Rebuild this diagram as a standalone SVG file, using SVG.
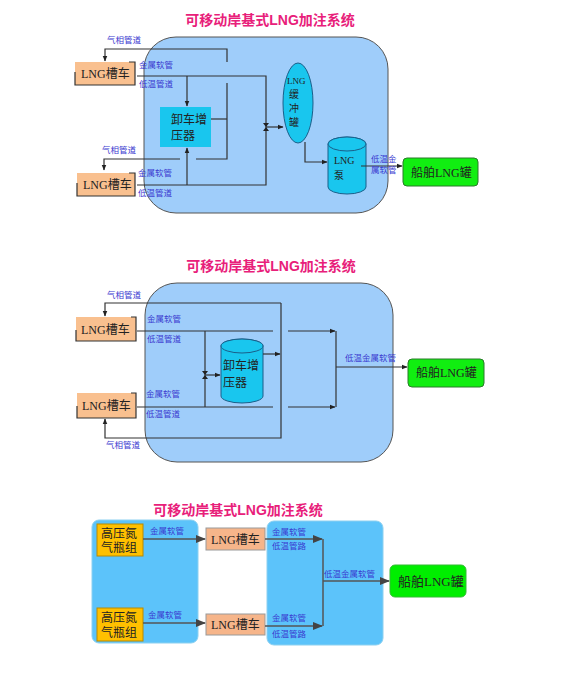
<svg xmlns="http://www.w3.org/2000/svg" width="580" height="673" viewBox="0 0 580 673">
<defs>
<marker id="a" viewBox="0 0 10 10" refX="9" refY="5" markerWidth="5" markerHeight="5" orient="auto"><path d="M0,1 L10,5 L0,9 z" fill="#222"/></marker>
<marker id="b" viewBox="0 0 10 10" refX="9" refY="5" markerWidth="7" markerHeight="7" orient="auto"><path d="M0,1 L10,5 L0,9 z" fill="#444"/></marker>
<style>
.t{font-family:"Liberation Sans","Noto Sans CJK SC",sans-serif;font-weight:bold;font-size:14px;fill:#e8207a}
.l{font-family:"Noto Sans CJK SC",sans-serif;font-size:8.5px;fill:#3a3ad0}
.n{font-family:"Liberation Serif","Noto Sans CJK SC",serif;font-size:12px;fill:#222}
.ln{stroke:#333;stroke-width:1.2;fill:none}
.ln3{stroke:#555;stroke-width:1.5;fill:none}
.panel{fill:#9fcdfa;stroke:#555;stroke-width:1}
.truck{fill:#f9c08f}
.green{fill:#11ee11;stroke:#2a7a2a;stroke-width:1}
.cyan{fill:#19c6ee;stroke:#1a5f8a;stroke-width:1}
.sky{fill:#5cc3fa;stroke:#8cd0f0;stroke-width:1}
.gold{fill:#ffc000;stroke:#b88a00;stroke-width:1}
.tk3{fill:#f6b58a;stroke:#999;stroke-width:1}
</style>
</defs>

<!-- ===== Diagram 1 ===== -->
<text class="t" x="270" y="25" text-anchor="middle">可移动岸基式LNG加注系统</text>
<rect class="panel" x="144" y="37" width="244" height="176" rx="32"/>

<g id="d1-truck1"><rect class="truck" x="75" y="62" width="60" height="23"/><path class="ln" d="M75,72 V85 H135 V62 H129"/><text class="n" x="81" y="78">LNG槽车</text></g>
<g id="d1-truck2"><rect class="truck" x="77" y="173" width="58" height="23"/><path class="ln" d="M77,183 V196 H135 V173 H129"/><text class="n" x="83" y="189">LNG槽车</text></g>
<g id="d1-press"><rect x="160" y="107" width="51" height="40" fill="#19c6ee"/><text class="n" x="171" y="124">卸车增</text><text class="n" x="171" y="140">压器</text></g>
<g id="d1-buffer"><ellipse class="cyan" cx="298" cy="103" rx="15" ry="40"/><text class="n" x="287" y="84" style="font-size:9px">LNG</text><text class="n" x="289" y="98" style="font-size:10px">缓</text><text class="n" x="289" y="112" style="font-size:10px">冲</text><text class="n" x="289" y="126" style="font-size:10px">罐</text></g>
<g id="d1-pump"><path class="cyan" d="M328,144 V187 A19,7 0 0 0 366,187 V144 A19,7 0 0 0 328,144 Z"/><ellipse class="cyan" cx="347" cy="144" rx="19" ry="7"/><text class="n" x="334" y="164" style="font-size:10px">LNG</text><text class="n" x="334" y="179" style="font-size:10px">泵</text></g>
<g id="d1-ship"><rect class="green" x="403" y="158" width="75" height="28" rx="4"/><text class="n" x="411" y="177">船舶LNG罐</text></g>

<g id="d1-connectors">
<path class="ln" d="M227,62 V49 H105 V61" marker-end="url(#a)"/>
<path class="ln" d="M180,159 H104 V170" marker-end="url(#a)"/>
<path class="ln" d="M196,159 H227 V83"/>
<path class="ln" d="M211,119 H227"/>
<path class="ln" d="M137,76 H266 V185 H137"/>
<path class="ln" d="M187,76 V106" marker-end="url(#a)"/>
<path class="ln" d="M187,185 V148" marker-end="url(#a)"/>
<path d="M263,123 L269,123 L263,131 L269,131 Z" fill="#222"/>
<path class="ln" d="M266,127 H283" marker-end="url(#a)"/>
<path class="ln" d="M305,142 V162 H327" marker-end="url(#a)"/>
<path class="ln" d="M361,166 H402" marker-end="url(#a)"/>
<text class="l" x="107" y="43">气相管道</text>
<text class="l" x="139" y="68">金属软管</text>
<text class="l" x="139" y="87">低温管道</text>
<text class="l" x="102" y="153">气相管道</text>
<text class="l" x="138" y="176">金属软管</text>
<text class="l" x="138" y="196">低温管道</text>
<text class="l" x="371" y="162">低温金</text>
<text class="l" x="371" y="173">属软管</text>
</g>

<!-- ===== Diagram 2 ===== -->
<text class="t" x="271" y="271" text-anchor="middle">可移动岸基式LNG加注系统</text>
<rect class="panel" x="145" y="283" width="248" height="179" rx="32"/>

<g id="d2-truck1"><rect class="truck" x="76" y="317" width="60" height="24"/><path class="ln" d="M76,330 V341 H136 V317 H131"/><text class="n" x="81" y="334">LNG槽车</text></g>
<g id="d2-truck2"><rect class="truck" x="77" y="393" width="59" height="25"/><path class="ln" d="M77,406 V418 H136 V393 H131"/><text class="n" x="82" y="410">LNG槽车</text></g>
<g id="d2-press"><path class="cyan" d="M221,346 V396 A21,7 0 0 0 263,396 V346 A21,7 0 0 0 221,346 Z"/><ellipse class="cyan" cx="242" cy="346" rx="21" ry="7"/><text class="n" x="223" y="370">卸车增</text><text class="n" x="223" y="387">压器</text></g>
<g id="d2-ship"><rect class="green" x="408" y="359" width="76" height="28" rx="4"/><text class="n" x="416" y="377">船舶LNG罐</text></g>

<g id="d2-connectors">
<path class="ln" d="M281,303 H105 V316" marker-end="url(#a)"/>
<path class="ln" d="M281,303 V438 H105 V419" marker-end="url(#a)"/>
<path class="ln" d="M137,331 H273"/>
<path class="ln" d="M137,407 H273"/>
<path class="ln" d="M205,331 V407"/>
<path d="M202,371 L208,371 L202,379 L208,379 Z" fill="#222"/>
<path class="ln" d="M205,375 H220" marker-end="url(#a)"/>
<path class="ln" d="M263,354 H280" marker-end="url(#a)"/>
<path class="ln" d="M288,331 H335" marker-end="url(#a)"/>
<path class="ln" d="M288,407 H335" marker-end="url(#a)"/>
<path class="ln" d="M336,331 V407"/>
<path class="ln" d="M336,367 H407" marker-end="url(#a)"/>
<text class="l" x="107" y="298">气相管道</text>
<text class="l" x="147" y="322">金属软管</text>
<text class="l" x="147" y="342">低温管道</text>
<text class="l" x="146" y="397">金属软管</text>
<text class="l" x="146" y="417">低温管道</text>
<text class="l" x="106" y="448">气相管道</text>
<text class="l" x="345" y="361">低温金属软管</text>
</g>

<!-- ===== Diagram 3 ===== -->
<text class="t" x="238" y="515" text-anchor="middle">可移动岸基式LNG加注系统</text>
<rect class="sky" x="92" y="520" width="106" height="123" rx="7"/>
<rect class="sky" x="267" y="521" width="116" height="124" rx="7"/>

<g id="d3-n2a"><rect class="gold" x="97" y="524" width="46" height="32"/><text class="n" x="101" y="538">高压氮</text><text class="n" x="101" y="552">气瓶组</text></g>
<g id="d3-n2b"><rect class="gold" x="97" y="608" width="46" height="33"/><text class="n" x="101" y="622">高压氮</text><text class="n" x="101" y="637">气瓶组</text></g>
<g id="d3-truck1"><rect class="tk3" x="206" y="528" width="59" height="22"/><text class="n" x="211" y="544">LNG槽车</text></g>
<g id="d3-truck2"><rect class="tk3" x="206" y="614" width="59" height="21"/><text class="n" x="211" y="629">LNG槽车</text></g>
<g id="d3-ship"><rect x="390" y="565" width="76" height="32" rx="5" fill="#00ee00" stroke="#33bb33"/><text class="n" x="398" y="586" style="font-size:13px">船舶LNG罐</text></g>

<g id="d3-connectors">
<path class="ln3" d="M143,539 H205" marker-end="url(#b)"/>
<path class="ln3" d="M143,623 H205" marker-end="url(#b)"/>
<path class="ln3" d="M265,539 H322" marker-end="url(#b)"/>
<path class="ln3" d="M265,626 H322" marker-end="url(#b)"/>
<path class="ln3" d="M323,539 V626"/>
<path class="ln3" d="M323,581 H389" marker-end="url(#b)"/>
<text class="l" x="150" y="534">金属软管</text>
<text class="l" x="148" y="618">金属软管</text>
<text class="l" x="272" y="535">金属软管</text>
<text class="l" x="272" y="549">低温管路</text>
<text class="l" x="272" y="621">金属软管</text>
<text class="l" x="272" y="637">低温管路</text>
<text class="l" x="324" y="577">低温金属软管</text>
</g>
</svg>
